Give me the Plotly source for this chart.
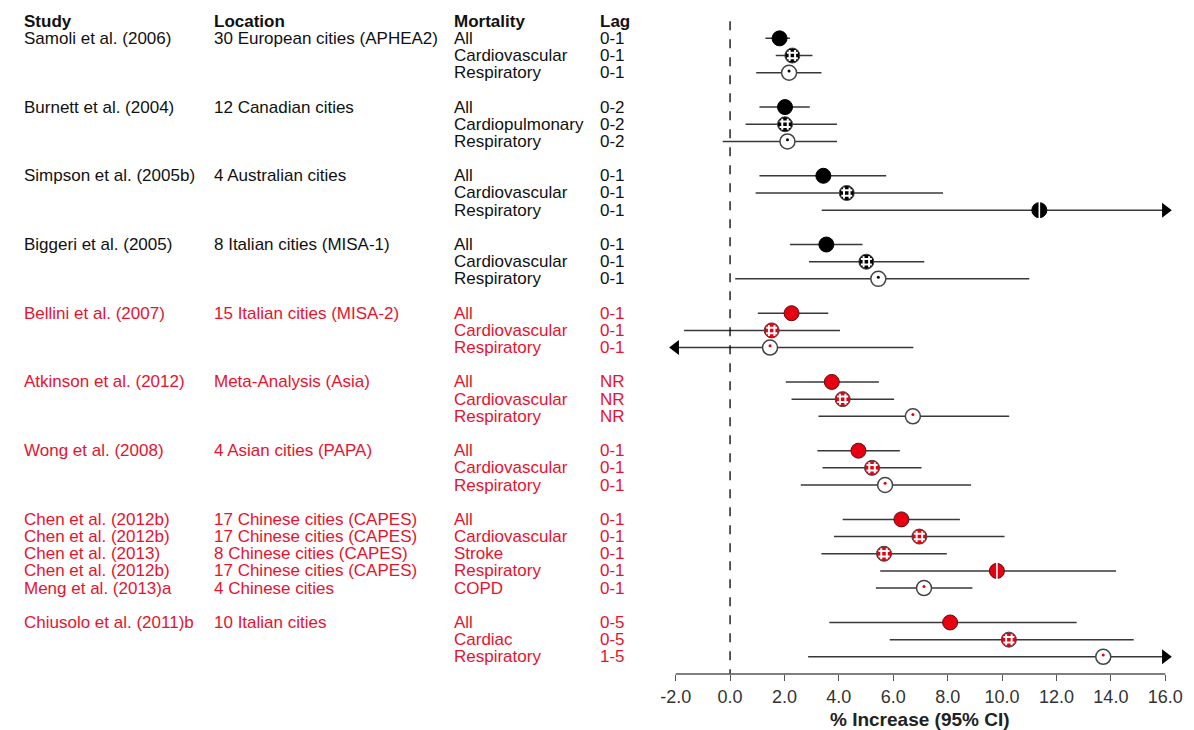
import plotly.graph_objects as go

# ---- data ----
study = ["Samoli et al. (2006)", "", "",
         "Burnett et al. (2004)", "", "",
         "Simpson et al. (2005b)", "", "",
         "Biggeri et al. (2005)", "", "",
         "Bellini et al. (2007)", "", "",
         "Atkinson et al. (2012)", "", "",
         "Wong et al. (2008)", "", "",
         "Chen et al. (2012b)", "Chen et al. (2012b)", "Chen et al. (2013)", "Chen et al. (2012b)", "Meng et al. (2013)a",
         "Chiusolo et al. (2011)b", "", ""]
location = ["30 European cities (APHEA2)", "", "",
            "12 Canadian cities", "", "",
            "4 Australian cities", "", "",
            "8 Italian cities (MISA-1)", "", "",
            "15 Italian cities (MISA-2)", "", "",
            "Meta-Analysis (Asia)", "", "",
            "4 Asian cities (PAPA)", "", "",
            "17 Chinese cities (CAPES)", "17 Chinese cities (CAPES)", "8 Chinese cities (CAPES)",
            "17 Chinese cities (CAPES)", "4 Chinese cities",
            "10 Italian cities", "", ""]
mortality = ["All", "Cardiovascular", "Respiratory",
             "All", "Cardiopulmonary", "Respiratory",
             "All", "Cardiovascular", "Respiratory",
             "All", "Cardiovascular", "Respiratory",
             "All", "Cardiovascular", "Respiratory",
             "All", "Cardiovascular", "Respiratory",
             "All", "Cardiovascular", "Respiratory",
             "All", "Cardiovascular", "Stroke", "Respiratory", "COPD",
             "All", "Cardiac", "Respiratory"]
lag = ["0-1", "0-1", "0-1",
       "0-2", "0-2", "0-2",
       "0-1", "0-1", "0-1",
       "0-1", "0-1", "0-1",
       "0-1", "0-1", "0-1",
       "NR", "NR", "NR",
       "0-1", "0-1", "0-1",
       "0-1", "0-1", "0-1", "0-1", "0-1",
       "0-5", "0-5", "1-5"]
group = [0, 0, 0, 1, 1, 1, 2, 2, 2, 3, 3, 3, 4, 4, 4, 5, 5, 5, 6, 6, 6,
         7, 7, 7, 7, 7, 8, 8, 8]
est = [1.82, 2.29, 2.17, 2.02, 2.02, 2.11, 3.43, 4.29, 11.37,
       3.54, 5.01, 5.45, 2.26, 1.53, 1.47, 3.74, 4.14, 6.72,
       4.72, 5.22, 5.70, 6.30, 6.96, 5.66, 9.81, 7.13, 8.09, 10.25, 13.72]
ci_low = [1.30, 1.68, 0.96, 1.08, 0.57, -0.27, 1.08, 0.94, 3.37,
          2.20, 2.90, 0.19, 1.02, -1.69, -2.60, 2.05, 2.26, 3.25,
          3.21, 3.40, 2.60, 4.14, 3.82, 3.36, 5.52, 5.36, 3.65, 5.87, 2.87]
ci_high = [2.20, 3.03, 3.36, 2.93, 3.93, 3.93, 5.74, 7.83, 17.50,
           4.87, 7.14, 11.00, 3.61, 4.04, 6.74, 5.47, 6.03, 10.26,
           6.24, 7.04, 8.86, 8.45, 10.09, 7.97, 14.19, 8.91, 12.74, 14.84, 16.80]
x_ticks = [-2, 0, 2, 4, 6, 8, 10, 12, 14, 16]
headers = ["Study", "Location", "Mortality", "Lag"]
highlighted_groups = [4, 5, 6, 7, 8]  # shown in red

# ---- styling ----
W, H = 1194, 730
RED = "#E60012"
TXT_RED = "#E8122E"
LINE = "#383838"
col_px = [13, 206, 451, 599]
split_rows = [8, 24]
x_min, x_max = x_ticks[0], x_ticks[-1]
x_range = [-2.25, 16.25]
dom = [671.1 / W, 1182.9 / W]
y_bottom = 37.0

rows = [i + g for i, g in enumerate(group)]
colors = [RED if g in highlighted_groups else "black" for g in group]
tcolors = [TXT_RED if g in highlighted_groups else "#111111" for g in group]

fig = go.Figure()

# confidence intervals, clipped to the axis
for r, lo, hi in zip(rows, ci_low, ci_high):
    fig.add_trace(go.Scatter(x=[max(lo, x_min), min(hi, x_max)], y=[r, r], mode="lines",
                             line=dict(color=LINE, width=1.5), hoverinfo="skip", showlegend=False))

# arrows for truncated intervals
ar = [(r, x_max, "triangle-right") for r, hi in zip(rows, ci_high) if hi > x_max]
al = [(r, x_min, "triangle-left") for r, lo in zip(rows, ci_low) if lo < x_min]
for r, xv, sym in ar + al:
    fig.add_trace(go.Scatter(x=[xv], y=[r], mode="markers",
                             marker=dict(symbol=sym, size=13, color="black"),
                             hoverinfo="skip", showlegend=False))


def kind(i):
    m = mortality[i]
    if i in split_rows:
        return "split"
    if m == "All":
        return "all"
    if m in ("Respiratory", "COPD"):
        return "open"
    return "check"


for i, r in enumerate(rows):
    k = kind(i)
    c = colors[i]
    edge = "black" if c == "black" else "#5a1010"
    if k in ("all", "split"):
        fig.add_trace(go.Scatter(x=[est[i]], y=[r], mode="markers",
                                 marker=dict(symbol="circle", size=15, color=c,
                                             line=dict(color=edge, width=1)),
                                 hoverinfo="skip", showlegend=False))
        if k == "split":
            fig.add_trace(go.Scatter(x=[est[i]], y=[r], mode="markers",
                                     marker=dict(symbol="line-ns", size=13,
                                                 line=dict(color="white", width=1.6)),
                                     hoverinfo="skip", showlegend=False))
    elif k == "check":
        fig.add_trace(go.Scatter(x=[est[i]], y=[r], mode="markers",
                                 marker=dict(symbol="circle", size=15, color=c,
                                             line=dict(color="#444444", width=1)),
                                 hoverinfo="skip", showlegend=False))
        fig.add_trace(go.Scatter(x=[est[i]], y=[r], mode="markers",
                                 marker=dict(symbol="hash", size=11,
                                             line=dict(color="white", width=2)),
                                 hoverinfo="skip", showlegend=False))
    else:
        fig.add_trace(go.Scatter(x=[est[i]], y=[r], mode="markers",
                                 marker=dict(symbol="circle", size=15, color="white",
                                             line=dict(color="#444444", width=1.5)),
                                 hoverinfo="skip", showlegend=False))
        fig.add_trace(go.Scatter(x=[est[i]], y=[r - 0.1], mode="markers",
                                 marker=dict(symbol="circle", size=3, color=c),
                                 hoverinfo="skip", showlegend=False))

# text columns
ann = []
for h, px in zip(headers, col_px):
    ann.append(dict(x=px / W, y=-1, xref="paper", yref="y", text="<b>%s</b>" % h,
                    showarrow=False, xanchor="left", yanchor="middle",
                    font=dict(size=17, color="#111111")))
for i, r in enumerate(rows):
    for txt, px in zip([study[i], location[i], mortality[i], lag[i]], col_px):
        if txt:
            ann.append(dict(x=px / W, y=r, xref="paper", yref="y", text=txt,
                            showarrow=False, xanchor="left", yanchor="middle",
                            font=dict(size=17, color=tcolors[i])))
ann.append(dict(x=(dom[0] + dom[1]) / 2, y=-0.068, xref="paper", yref="paper",
                text="<b>% Increase (95% CI)</b>", showarrow=False,
                xanchor="center", yanchor="middle",
                font=dict(size=19, color="#222222")))

fig.update_layout(
    width=W, height=H,
    margin=dict(l=0, r=0, t=4, b=56),
    paper_bgcolor="white", plot_bgcolor="white",
    font=dict(family="Liberation Sans, Arial, sans-serif"),
    showlegend=False,
    annotations=ann,
    shapes=[
        dict(type="line", xref="x", yref="y", x0=0, x1=0, y0=-1, y1=y_bottom,
             line=dict(color="black", width=1.3, dash="dash")),
        dict(type="line", xref="x", yref="paper", x0=x_min, x1=x_max, y0=0, y1=0,
             line=dict(color="#555555", width=1.3)),
    ],
    xaxis=dict(domain=dom, range=x_range, showgrid=False, zeroline=False, showline=False,
               tickvals=x_ticks, ticktext=["%.1f" % v for v in x_ticks],
               ticks="outside", ticklen=6, tickwidth=1.3, tickcolor="#555555",
               tickfont=dict(size=18, color="#333333")),
    yaxis=dict(range=[y_bottom, -2], visible=False),
)

config = {'displayModeBar': False}

# page body has a default 8px margin; drop it so the figure fills the window
fig.write_html("out.html", config=config, post_script="document.body.style.margin='0';")
